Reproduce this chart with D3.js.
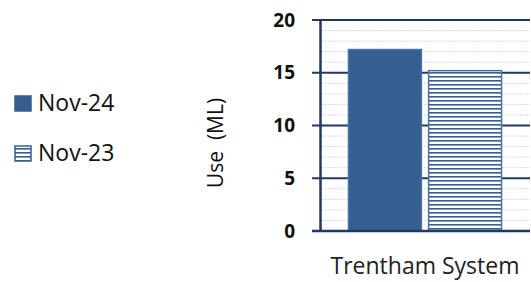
<!DOCTYPE html>
<html>
<head>
<meta charset="utf-8">
<script src="https://cdn.jsdelivr.net/npm/d3@7"></script>
<style>
  body { margin: 0; background: #fff; }
  text { font-family: "Open Sans", "Liberation Sans", sans-serif; }
</style>
</head>
<body>
<div class="vis-barchart"></div>
<script>
const categories = ['Trentham System'];
const seriesNames = ['Nov-24', 'Nov-23'];
const nov24 = [17.2];
const nov23 = [15.2];
const yTicks = [0, 5, 10, 15, 20];

const W = 531, H = 282;
const margin = { top: 20, right: 1, bottom: 51, left: 320 };
const width = W - margin.left - margin.right;
const height = H - margin.top - margin.bottom;
const navy = '#1F3864';
const blue = '#355F91';

const svg = d3.select('.vis-barchart')
  .append('svg')
  .attr('width', W)
  .attr('height', H);

// stripe pattern for Nov-23
const defs = svg.append('defs');
const pat = defs.append('pattern')
  .attr('id', 'stripes')
  .attr('patternUnits', 'userSpaceOnUse')
  .attr('width', 8).attr('height', 4);
pat.append('rect').attr('width', 8).attr('height', 4).attr('fill', '#fff');
pat.append('rect').attr('y', 0).attr('width', 8).attr('height', 1.6).attr('fill', blue);

const g = svg.append('g')
  .attr('transform', `translate(${margin.left},${margin.top})`);

const x0 = d3.scaleBand().domain(categories).range([0, width]).paddingInner(0).paddingOuter(0.186);
const x1 = d3.scaleBand().domain(seriesNames).range([0, x0.bandwidth()]).paddingInner(0.09).paddingOuter(0);
const y = d3.scaleLinear().domain([0, 20]).range([height, 0]);

// minor gridlines
g.append('g')
  .selectAll('line')
  .data(d3.range(1, 20).filter((v) => v % 5 !== 0))
  .enter()
  .append('line')
  .attr('x1', 2).attr('x2', width)
  .attr('y1', (d) => y(d)).attr('y2', (d) => y(d))
  .attr('stroke', '#d9d9d9')
  .attr('stroke-width', 1)
  .attr('stroke-dasharray', '2,1');

// major gridlines
g.append('g')
  .selectAll('line')
  .data(yTicks)
  .enter()
  .append('line')
  .attr('x1', -8).attr('x2', width)
  .attr('y1', (d) => y(d)).attr('y2', (d) => y(d))
  .attr('stroke', navy)
  .attr('stroke-width', 2);

// bars
const series = [
  { name: 'Nov-24', values: nov24, fill: blue },
  { name: 'Nov-23', values: nov23, fill: 'url(#stripes)' }
];
series.forEach((s) => {
  g.append('g')
    .selectAll('rect')
    .data(categories)
    .enter()
    .append('rect')
    .attr('x', (d) => x0(d) + x1(s.name))
    .attr('width', x1.bandwidth())
    .attr('y', (d, i) => y(s.values[i]))
    .attr('height', (d, i) => height - y(s.values[i]))
    .attr('fill', s.fill)
    .attr('stroke', '#4A72A6')
    .attr('stroke-width', 1.5);
});

// y axis
const yAxis = g.append('g')
  .call(d3.axisLeft(y).tickValues(yTicks).tickSize(0).tickPadding(25));
yAxis.select('.domain').attr('stroke', navy).attr('stroke-width', 2.5);
yAxis.selectAll('text')
  .attr('font-size', 19)
  .attr('font-weight', 'bold')
  .attr('fill', '#111');
// redraw bottom line over bars
g.append('line')
  .attr('x1', -8).attr('x2', width)
  .attr('y1', height).attr('y2', height)
  .attr('stroke', navy).attr('stroke-width', 2.5);

// x axis label
g.append('g')
  .selectAll('text')
  .data(categories)
  .enter()
  .append('text')
  .attr('x', (d) => x0(d) + x0.bandwidth() / 2)
  .attr('y', height + 43)
  .attr('text-anchor', 'middle')
  .attr('font-size', 23)
  .attr('fill', '#222')
  .text((d) => d);

// y title
svg.append('text')
  .attr('transform', `translate(223,143) rotate(-90)`)
  .attr('text-anchor', 'middle')
  .attr('font-size', 21)
  .attr('fill', '#111')
  .attr('xml:space', 'preserve')
  .style('white-space', 'pre')
  .text('Use  (ML)');

// legend
const legend = svg.append('g');
series.forEach((s, i) => {
  const ly = 96 + i * 50;
  legend.append('rect')
    .attr('x', 15).attr('y', ly)
    .attr('width', 16).attr('height', 15)
    .attr('fill', s.fill)
    .attr('stroke', blue).attr('stroke-width', 1.5);
  legend.append('text')
    .attr('x', 38).attr('y', ly + 15)
    .attr('font-size', 23)
    .attr('fill', '#111')
    .text(s.name);
});
</script>
</body>
</html>
